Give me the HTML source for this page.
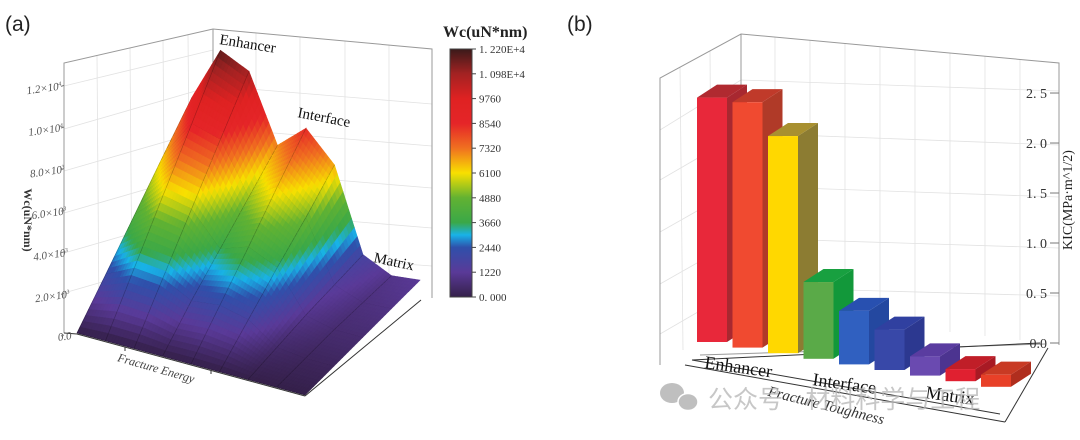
<!DOCTYPE html>
<html><head><meta charset="utf-8">
<style>
html,body{margin:0;padding:0;background:#fff;}
svg{display:block;}
text{font-family:"Liberation Serif",serif;}
</style></head>
<body>
<svg id="fig" width="1080" height="440" viewBox="0 0 1080 440" xmlns="http://www.w3.org/2000/svg">
  <g>
    <text x="5" y="31" style="font-family:'Liberation Sans',sans-serif" font-size="21" fill="#222">(a)</text>
    <g stroke="#e2e2e2" stroke-width="0.8" fill="none">
      <line x1="97" y1="56" x2="99" y2="320"/><line x1="130" y1="48" x2="132" y2="300"/><line x1="163" y1="40" x2="165" y2="280"/><line x1="188" y1="35" x2="190" y2="262"/>
      <line x1="256" y1="33" x2="256" y2="260"/><line x1="300" y1="37" x2="300" y2="270"/><line x1="345" y1="41" x2="345" y2="280"/><line x1="389" y1="45" x2="389" y2="290"/>
      <line x1="64" y1="293" x2="213" y2="250"/><line x1="64" y1="253" x2="213" y2="210"/><line x1="64" y1="213" x2="213" y2="170"/><line x1="64" y1="171" x2="213" y2="128"/><line x1="64" y1="129" x2="213" y2="86"/><line x1="64" y1="86" x2="213" y2="50"/>
      <line x1="213" y1="86" x2="432" y2="104"/><line x1="213" y1="128" x2="432" y2="146"/><line x1="213" y1="170" x2="432" y2="188"/><line x1="213" y1="210" x2="432" y2="228"/><line x1="213" y1="250" x2="432" y2="266"/>
    </g>
    <g stroke="#999" stroke-width="1" fill="none">
      <polyline points="64,333 64,63 213,29 432,49 432,298"/>
      <line x1="213" y1="29" x2="213" y2="250"/>
    </g>
    <g id="surface"></g>
    <g stroke="#333" stroke-width="1" fill="none">
      <line x1="77" y1="334" x2="305" y2="396"/>
      <line x1="305" y1="396" x2="421" y2="300"/>
      <line x1="125" y1="347" x2="125" y2="351"/><line x1="211" y1="370" x2="211" y2="374"/>
      <line x1="64" y1="333" x2="77" y2="334"/>
    </g>
    <g id="ztick-a"></g>
    <text transform="translate(24,220) rotate(90)" font-size="12" font-weight="bold" fill="#333" text-anchor="middle">Wc(uN*nm)</text>
    <text transform="translate(155,372) rotate(16)" font-size="12" font-style="italic" fill="#444" text-anchor="middle">Fracture Energy</text>
    <text transform="translate(219,44) rotate(9)" font-size="15" fill="#111">Enhancer</text>
    <text transform="translate(297,117) rotate(11)" font-size="15" fill="#111">Interface</text>
    <text transform="translate(373,262) rotate(12)" font-size="15" fill="#111">Matrix</text>
    <text x="443" y="37" font-size="16" font-weight="bold" fill="#222">Wc(uN*nm)</text>
    <rect x="450" y="49" width="22" height="248" fill="url(#cbgrad)" stroke="#444" stroke-width="1"/>
    <g id="cbticks"></g>
  </g>

  <g>
    <text x="567" y="31" style="font-family:'Liberation Sans',sans-serif" font-size="21" fill="#222">(b)</text>
    <g stroke="#e2e2e2" stroke-width="0.8" fill="none">
      <line x1="680" y1="67" x2="683" y2="350"/><line x1="710" y1="51" x2="712" y2="342"/>
      <line x1="775" y1="37" x2="775" y2="318"/><line x1="810" y1="40" x2="810" y2="320"/><line x1="845" y1="43" x2="845" y2="322"/><line x1="880" y1="47" x2="880" y2="325"/><line x1="915" y1="50" x2="915" y2="328"/><line x1="950" y1="53" x2="950" y2="332"/><line x1="985" y1="56" x2="985" y2="336"/><line x1="1020" y1="60" x2="1020" y2="340"/>
      <line x1="741" y1="80" x2="1059" y2="91"/><line x1="741" y1="133" x2="1059" y2="145"/><line x1="741" y1="186" x2="1059" y2="197"/><line x1="741" y1="238" x2="1059" y2="248"/><line x1="741" y1="287" x2="1059" y2="296"/>
      <line x1="660" y1="130" x2="741" y2="80"/><line x1="660" y1="180" x2="741" y2="133"/><line x1="660" y1="232" x2="741" y2="186"/><line x1="660" y1="284" x2="741" y2="238"/><line x1="660" y1="334" x2="741" y2="287"/>
    </g>
    <g stroke="#999" stroke-width="1" fill="none">
      <polyline points="660,365 660,78 741,34 1059,63 1059,345"/>
      <line x1="741" y1="34" x2="741" y2="320"/>
      <line x1="700" y1="355" x2="1045" y2="344"/>
    </g>
    <g stroke="#333" stroke-width="1" fill="none">
      <line x1="685" y1="365" x2="1005" y2="422"/>
      <line x1="1005" y1="422" x2="1048" y2="348"/>
      <line x1="692" y1="360" x2="1040" y2="343"/>
      <line x1="692" y1="360" x2="1000" y2="414"/>
    </g>
    <g id="bars"></g>
    <g id="ztick-b"></g>
    <text transform="translate(1072,200) rotate(-90)" font-size="14" fill="#222" text-anchor="middle">KIC(MPa·m^1/2)</text>
    <text transform="translate(704,368) rotate(8)" font-size="18" fill="#111">Enhancer</text>
    <text transform="translate(812,385) rotate(8)" font-size="18" fill="#111">Interface</text>
    <text transform="translate(925,398) rotate(8)" font-size="18" fill="#111">Matrix</text>
    <text transform="translate(825,410) rotate(14)" font-size="15" font-style="italic" fill="#333" text-anchor="middle">Fracture Toughness</text>
    <g opacity="0.75">
      <ellipse cx="672" cy="393" rx="12" ry="10" fill="#aaa"/>
      <ellipse cx="688" cy="402" rx="10" ry="8.5" fill="#aaa" stroke="#fff" stroke-width="1.5"/>
      <text x="708" y="408" font-size="25" fill="#b5b5b5" style="font-family:'Liberation Sans','Noto Sans CJK SC',sans-serif">公众号 · 材料科学与工程</text>
    </g>
  </g>
  <defs>
    <linearGradient id="cbgrad" x1="0" y1="1" x2="0" y2="0">
      <stop offset="0" stop-color="#35204a"/><stop offset="0.1" stop-color="#5a3a98"/><stop offset="0.2" stop-color="#2f50ab"/><stop offset="0.25" stop-color="#18b2e8"/><stop offset="0.3" stop-color="#3aa848"/><stop offset="0.4" stop-color="#62b232"/><stop offset="0.5" stop-color="#f8e000"/><stop offset="0.6" stop-color="#f07020"/><stop offset="0.7" stop-color="#e52528"/><stop offset="0.8" stop-color="#df2222"/><stop offset="0.9" stop-color="#a32222"/><stop offset="1" stop-color="#3a1a1a"/>
    </linearGradient>
  </defs>
</svg>
<script>
const surfRow0 = [0,0,0,0,0,0,0,0,0];
const surfRow1 = [2100,2950,2800,1900,2100,1700,500,300,300];
const surfRow2 = [4250,5900,5550,3600,4200,3400,1000,600,600];
const surfRow3 = [6400,8800,8300,5300,6400,5000,1400,800,900];
const surfRow4 = [8500,11800,11000,7000,8500,6750,1800,1000,1200];
const zTickValues = [0,2000,4000,6000,8000,10000,12000];
const zTickLabels = [["0.0",""],["2.0×10","3"],["4.0×10","3"],["6.0×10","3"],["8.0×10","3"],["1.0×10","4"],["1.2×10","4"]];
const cbTickLabels = ["0. 000","1220","2440","3660","4880","6100","7320","8540","9760","1. 098E+4","1. 220E+4"];
const cbTickValues = [0,1220,2440,3660,4880,6100,7320,8540,9760,10980,12200];
const kicCategories = ["E1","E2","E3","I1","I2","I3","M1","M2","M3"];
const kicValues = [2.42,2.43,2.15,0.76,0.53,0.40,0.19,0.12,0.12];
const kicTickValues = [0,0.5,1.0,1.5,2.0,2.5];
const kicTickLabels = ["0.0","0. 5","1. 0","1. 5","2. 0","2. 5"];

const NS = "http://www.w3.org/2000/svg";
function mk(tag, attrs, parent){const e=document.createElementNS(NS,tag);for(const k in attrs)e.setAttribute(k,attrs[k]);if(parent)parent.appendChild(e);return e;}

const cmStops=[[0,[53,32,74]],[0.1,[90,58,152]],[0.2,[47,80,171]],[0.25,[24,178,232]],[0.3,[58,168,72]],[0.4,[98,178,50]],[0.5,[248,224,0]],[0.6,[240,112,32]],[0.7,[229,37,40]],[0.8,[223,34,34]],[0.9,[163,34,34]],[1,[58,26,26]]];
const ZMAX=12200;
function cmap(z){let t=Math.max(0,Math.min(1,z/ZMAX));for(let i=1;i<cmStops.length;i++){if(t<=cmStops[i][0]){const a=cmStops[i-1],b=cmStops[i];const f=(t-a[0])/(b[0]-a[0]);const c=a[1].map((v,k)=>Math.round(v+(b[1][k]-v)*f));return `rgb(${c[0]},${c[1]},${c[2]})`;}}return "rgb(58,26,26)";}

const ZS=0.01656;
function proj(a,b,z){return [77+228*a+115*b, 333+62*a-95*b-z*ZS];}
const grid=[surfRow0,surfRow1,surfRow2,surfRow3,surfRow4];
const nJ=grid.length,nI=grid[0].length;
function zAt(a,b){
  const fi=a*(nI-1),fj=b*(nJ-1);let i=Math.min(nI-2,Math.floor(fi)),j=Math.min(nJ-2,Math.floor(fj));
  const u=fi-i,v=fj-j;
  return grid[j][i]*(1-u)*(1-v)+grid[j][i+1]*u*(1-v)+grid[j+1][i]*(1-u)*v+grid[j+1][i+1]*u*v;}
const surf=document.getElementById('surface');
const S=10,quads=[];
for(let j=0;j<nJ-1;j++)for(let i=0;i<nI-1;i++)for(let sj=0;sj<S;sj++)for(let si=0;si<S;si++){
  const a0=(i+si/S)/(nI-1),a1=(i+(si+1)/S)/(nI-1),b0=(j+sj/S)/(nJ-1),b1=(j+(sj+1)/S)/(nJ-1);
  const c=[[a0,b0],[a1,b0],[a1,b1],[a0,b1]].map(p=>{const z=zAt(p[0],p[1]);return {p:proj(p[0],p[1],z),z};});
  const zm=(c[0].z+c[1].z+c[2].z+c[3].z)/4;
  const depth=62*(a0+a1)/2-95*(b0+b1)/2;
  quads.push({c,zm,depth,edgeA:si===0,edgeB:sj===0});
}
quads.sort((x,y)=>x.depth-y.depth);
for(const q of quads){
  const col=cmap(q.zm);
  const pg=mk('polygon',{points:q.c.map(o=>o.p.join(',')).join(' '),fill:col,stroke:col,'stroke-width':0.6},surf);
  
  
  if(q.edgeA){const l=mk('line',{x1:q.c[0].p[0],y1:q.c[0].p[1],x2:q.c[3].p[0],y2:q.c[3].p[1],stroke:'#000','stroke-opacity':0.25,'stroke-width':0.7},surf);
    
    }
  if(q.edgeB){const l=mk('line',{x1:q.c[0].p[0],y1:q.c[0].p[1],x2:q.c[1].p[0],y2:q.c[1].p[1],stroke:'#000','stroke-opacity':0.25,'stroke-width':0.7},surf);
    
    }
}
function zyA(v){return 336-v*0.0208;}
const zt=document.getElementById('ztick-a');
zTickValues.forEach((v,k)=>{
  const y=zyA(v),xe=72-v/12000*10;
  const t=mk('text',{transform:`translate(${xe},${y+3}) rotate(-8)`,'font-size':11,'font-style':'italic',fill:'#555','text-anchor':'end'},zt);
  
  
  t.appendChild(document.createTextNode(zTickLabels[k][0]));
  if(zTickLabels[k][1]){const s=mk('tspan',{'font-size':6,dy:-4},t);s.textContent=zTickLabels[k][1];}
  const l=mk('line',{x1:64,y1:y-1,x2:61,y2:y,stroke:'#777'},zt);
  
  
});
const cbt=document.getElementById('cbticks');
cbTickValues.forEach((v,k)=>{
  const y=297-v/ZMAX*248;
  const l=mk('line',{x1:472,y1:y,x2:476,y2:y,stroke:'#444'},cbt);
  
  
  const t=mk('text',{x:479,y:y+4,'font-size':11,fill:'#333'},cbt);
  
  
  t.textContent=cbTickLabels[k];
});

function kicH(v){return v*101;}
function barX(i){return 697+35.5*i;}
function barBase(i){return 342+5.6*i;}
const barFront=["#e8283a","#f04a30","#ffd800","#5aaa48","#3060c0","#3848a8","#6a4ab0","#e02030","#e84028"];
const barSide=["#a82830","#b03a28","#8c7c32","#12983a","#2448a0","#2c3890","#4c3490","#a81a24","#b02e1e"];
const barTop=["#b02a30","#c03a2a","#a89030","#18a040","#2850b0","#3040a0","#5a3ca0","#c01e28","#c83a24"];
const bg=document.getElementById('bars');
const DX=20,DY=-13,BW=30;
for(let i=0;i<kicValues.length;i++){
  const x=barX(i),w=BW,yb=barBase(i),yt=yb-kicH(kicValues[i]);
  const g=mk('g',{},bg);
  
  
  mk('polygon',{points:`${x+w},${yt} ${x+w+DX},${yt+DY} ${x+w+DX},${yb+DY} ${x+w},${yb}`,fill:barSide[i]},g);
  mk('polygon',{points:`${x},${yt} ${x+DX},${yt+DY} ${x+w+DX},${yt+DY} ${x+w},${yt}`,fill:barTop[i]},g);
  mk('rect',{x:x,y:yt,width:w,height:yb-yt,fill:barFront[i]},g);
}
const ztb=document.getElementById('ztick-b');
kicTickValues.forEach((v,k)=>{
  const y=343-kicH(v)*0.99;
  const l=mk('line',{x1:1059,y1:y,x2:1050,y2:y,stroke:'#777'},ztb);
  
  
  const t=mk('text',{x:1047,y:y+5,'font-size':14,fill:'#333','text-anchor':'end'},ztb);
  
  
  t.textContent=kicTickLabels[k];
});
</script>
</body></html>
